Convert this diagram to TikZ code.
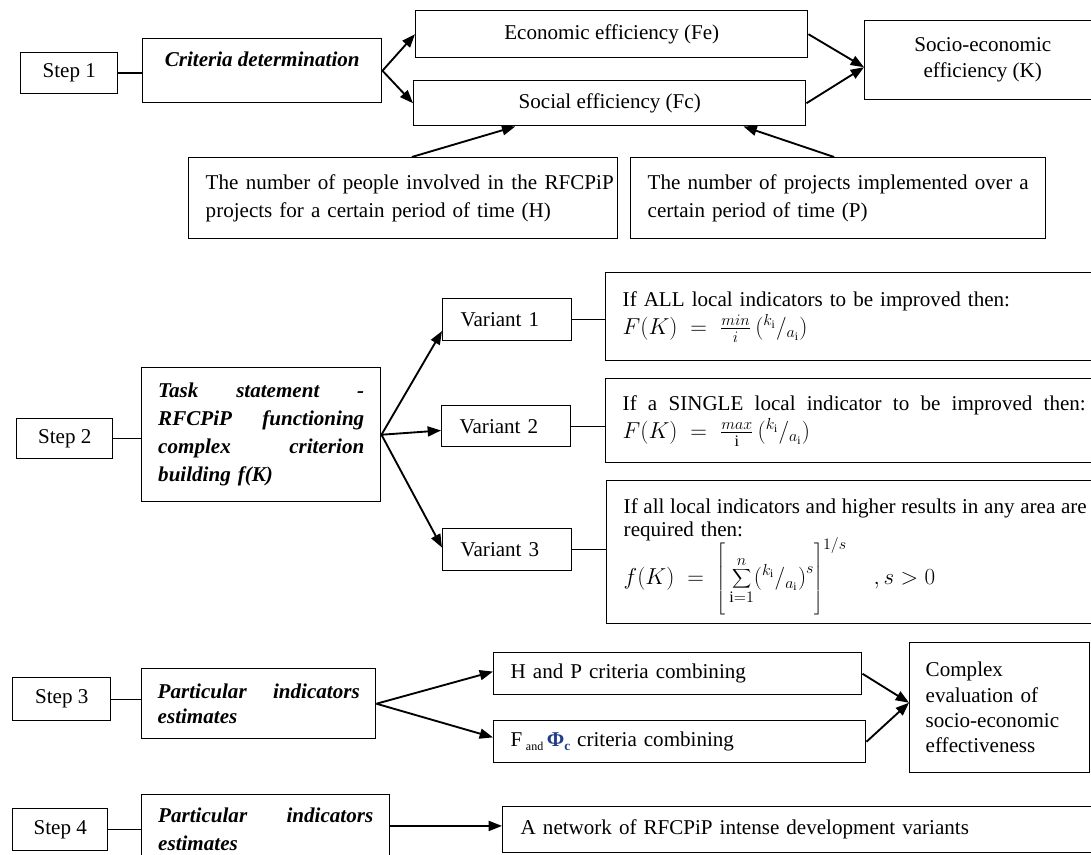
\documentclass[tikz,border=0pt]{standalone}
\usepackage{fontspec}
\setmainfont{Liberation Serif}
\usetikzlibrary{arrows.meta,calc}
\definecolor{phiblue}{HTML}{1F3C88}
% \bx[options]{name}{x1}{y1}{x2}{y2}{text}  (pixel coordinates, top-left / bottom-right)
\newcommand\bx[7][]{\node[bxs, minimum width={(#5-#3)*0.75pt}, minimum height={(#6-#4)*0.75pt}, #1] (#2) at (#3,#4) {#7};}
% justified single line of given width
\newcommand\jl[2]{\leavevmode\hbox to #1{\spaceskip=0.25em plus 1fil minus 0.12em\relax #2}}
\newcommand\fm{\fontsize{17.2}{21}\selectfont}
\begin{document}
\begin{tikzpicture}[x=0.75pt, y=-0.75pt,
  font=\fontsize{15.8}{21}\selectfont,
  bxs/.style={draw, line width=1.1pt, inner sep=0pt, anchor=north west},
  arr/.style={line width=1.4pt, -{Triangle[length=10pt,width=7.5pt]}},
  ln/.style={line width=1.1pt}]
\useasboundingbox (0,0) rectangle (1091,855);
\clip (0,0) rectangle (1091,855);

% ---------- Step 1 ----------
\bx{s1}{20}{52}{117}{93}{Step 1}
\bx[text height=11pt, text depth=17pt]{crit}{142}{38}{381}{102}{\textbf{\textit{Criteria determination}}}
\bx{econ}{415}{10}{807}{57}{Economic efficiency (Fe)}
\bx{soc}{413}{80}{805}{125}{Social efficiency (Fc)}
\bx[align=center, font=\fontsize{15.8}{19.5}\selectfont]{K}{864}{20}{1100}{99}{Socio-economic\\efficiency (K)}
\bx[text width=296.25pt, align=left]{H}{188}{157}{617}{238}{\jl{306pt}{The number of people involved in the RFCPiP}\\projects for a certain period of time (H)}
\bx[text width=285.75pt, align=left]{P}{630}{157}{1045}{238}{\jl{285.75pt}{The number of projects implemented over a}\\certain period of time (P)}

\draw[ln] (s1.east) -- (s1.east -| crit.west);
\draw[arr] (crit.east) -- (econ.west);
\draw[arr] (crit.east) -- (soc.west);
\coordinate (kin) at ($(K.west)+(0,7)$);
\draw[arr] (econ.east) -- (kin);
\draw[arr] (soc.east) -- (kin);
\draw[arr] ($(H.north west)!0.52!(H.north east)$) -- ($(soc.south west)!0.26!(soc.south east)$);
\draw[arr] ($(P.north west)!0.49!(P.north east)$) -- ($(soc.south west)!0.84!(soc.south east)$);

% ---------- Step 2 ----------
\bx{s2}{16}{418}{112}{458}{Step 2}
\bx[text width=154.5pt, align=left]{task}{141}{367}{380}{501}{\bfseries\itshape\jl{154.5pt}{Task statement -}\\\jl{154.5pt}{RFCPiP functioning}\\\jl{154.5pt}{complex criterion}\\building f(K)}
\bx[text width=69.75pt, align=left]{v1}{442}{298}{571}{340}{Variant 1}
\bx[text width=69.75pt, align=left]{v2}{441}{405}{570}{446}{Variant 2}
\bx[text width=69.75pt, align=left]{v3}{442}{528}{571}{570}{Variant 3}
\bx[text width=347.25pt, align=left]{f1}{605}{272}{1102}{360}{If ALL local indicators to be improved then:\\{\fm$F(K)\;=\;\frac{min}{i}\,({}^{k_{\mathrm{i}}}/{}_{a_{\mathrm{i}}})$}}
\bx[text width=347.25pt, align=left]{f2}{605}{378}{1102}{462}{\jl{347.25pt}{If a SINGLE local indicator to be improved then:}\\{\fm$F(K)\;=\;\frac{max}{\mathrm{i}}\,({}^{k_{\mathrm{i}}}/{}_{a_{\mathrm{i}}})$}}
\bx[text width=347.25pt, align=left, font=\fontsize{15.8}{17.5}\selectfont]{f3}{606}{480}{1103}{623}{\rule{0pt}{20pt}\jl{347.25pt}{If all local indicators and higher results in any area are}\\required then:\\[-4pt]{\fm$\displaystyle f(K)\;=\;\left[\rule[-25pt]{0pt}{52pt}\sum_{\mathrm{i}=1}^{n}\bigl({}^{k_{\mathrm{i}}}/{}_{a_{\mathrm{i}}}\bigr)^{s}\right]^{1/s}\quad{,}\,s>0$}}

\draw[ln] (s2.east) -- (s2.east -| task.west);
\draw[arr] (task.east) -- ($(v1.north west)!0.76!(v1.south west)$);
\draw[arr] (task.east) -- ($(v2.north west)!0.6!(v2.south west)$);
\draw[arr] (task.east) -- ($(v3.north west)!0.45!(v3.south west)$);
\draw[ln] (v1.east) -- (v1.east -| f1.west);
\draw[ln] (v2.east) -- (v2.east -| f2.west);
\draw[ln] (v3.east) -- (v3.east -| f3.west);

% ---------- Step 3 ----------
\bx{s3}{12}{677}{110}{720}{Step 3}
\bx[text width=151.5pt, align=left, font=\fontsize{15.8}{19}\selectfont]{p3}{141}{668}{375}{738}{\bfseries\itshape\jl{151.5pt}{Particular indicators}\\estimates}
\bx[text width=250.5pt, align=left]{hp}{493}{652}{861}{694}{H and P criteria combining}
\bx[text width=253.5pt, align=left]{fp}{493}{720}{865}{762}{F\,\raisebox{-3pt}{\fontsize{9}{9}\selectfont and}\,\textcolor{phiblue}{\textbf{Φ}\raisebox{-3pt}{\fontsize{10}{10}\selectfont\textbf{c}}} criteria combining}
\bx[text width=111pt, align=left, font=\fontsize{15.8}{19}\selectfont]{cx}{909}{642}{1089}{772}{Complex\\evaluation of\\socio-economic\\effectiveness}

\draw[ln] (s3.east) -- (s3.east -| p3.west);
\draw[arr] (p3.east) -- ($(hp.north west)!0.45!(hp.south west)$);
\draw[arr] (p3.east) -- ($(fp.north west)!0.4!(fp.south west)$);
\coordinate (cin) at ($(cx.west)+(0,-5)$);
\draw[arr] (hp.east) -- (cin);
\draw[arr] (fp.east) -- (cin);

% ---------- Step 4 ----------
\bx{s4}{12}{808}{107}{850}{Step 4}
\bx[text width=161.25pt, align=left]{p4}{141}{794}{389}{864}{\bfseries\itshape\jl{161.25pt}{Particular indicators}\\estimates}
\bx[text width=429pt, align=left]{net}{502}{806}{1110}{852}{A network of RFCPiP intense development variants}

\draw[ln] (s4.east) -- (s4.east -| p4.west);
\coordinate (nin) at ($(net.north west)!0.42!(net.south west)$);
\draw[arr] (nin -| p4.east) -- (nin);
\end{tikzpicture}
\end{document}
